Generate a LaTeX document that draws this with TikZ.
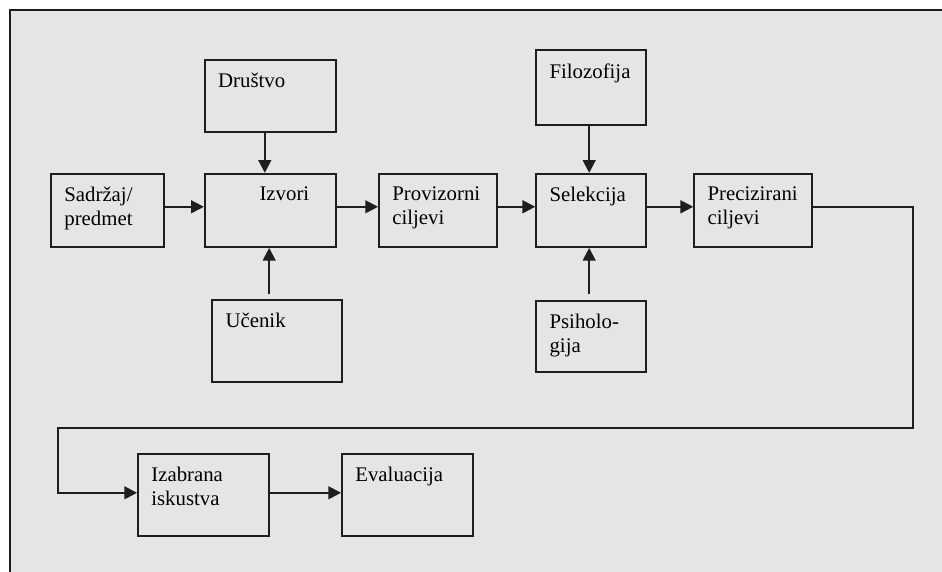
\documentclass[tikz,border=0pt]{standalone}
\usepackage{fontspec}
\setmainfont{Liberation Serif}
\definecolor{pozadina}{HTML}{E5E5E5}
\definecolor{linija}{HTML}{1E1E1E}
\usepackage{tikz}
\usetikzlibrary{arrows.meta, calc}

\begin{document}
\begin{tikzpicture}[
	blok/.style={shape=rectangle, draw=linija, fill=pozadina,
		line width=1.3pt, minimum width=3.28cm, minimum height=1.83cm},
	tekst/.style={anchor=north west, inner sep=0pt, align=left,
		font=\fontsize{14.8}{17}\selectfont, xshift=0.35cm, yshift=-0.35cm},
	veza/.style={draw=linija, line width=1.4pt,
		-{Triangle[length=0.32cm, width=0.32cm]}}]

	% okvir i pozadina
	\useasboundingbox (0, 0) rectangle (23.55, 14.3);
	\fill[pozadina] (0.25, 0) rectangle (23.55, 14.05);
	\draw[linija, line width=1pt] (0.25, 0) -- (0.25, 14.05) -- (23.55, 14.05);

	\node[blok, minimum width=2.83cm, label={[tekst]north west:Sadržaj/\\predmet}] at (2.69, 9.04) (sadrzaj){};
	\node[blok, label={[tekst, anchor=north, xshift=0cm]north:Izvori}] at (6.76, 9.04) (izvori){};
	\node[blok, minimum width=2.95cm, label={[tekst]north west:Provizorni\\ciljevi}] at (10.95, 9.04) (provizorni){};
	\node[blok, minimum width=2.75cm, label={[tekst]north west:Selekcija}] at (14.78, 9.04) (selekcija){};
	\node[blok, minimum width=2.95cm, label={[tekst]north west:Precizirani\\ciljevi}] at (18.83, 9.04) (precizirani){};
	\node[blok, minimum height=1.8cm, label={[tekst]north west:Društvo}] at (6.76, 11.9) (drustvo){};
	\node[blok, minimum width=2.75cm, minimum height=1.88cm, label={[tekst]north west:Filozofija}] at (14.78, 12.11) (filozofija){};
	\node[blok, minimum width=3.25cm, minimum height=2.05cm, label={[tekst]north west:Učenik}] at (6.93, 5.78) (ucenik){};
	\node[blok, minimum width=2.75cm, minimum height=1.78cm, label={[tekst]north west:Psiholo-\\gija}] at (14.78, 5.89) (psihologija){};
	\node[blok, minimum height=2.05cm, label={[tekst]north west:Izabrana\\iskustva}] at (5.09, 1.93) (izabrana){};
	\node[blok, minimum height=2.05cm, label={[tekst]north west:Evaluacija}] at (10.19, 1.93) (evaluacija){};

	\coordinate (desno) at (22.83, 3.6);
	\coordinate (lijevo) at (1.45, 3.6);

	\draw[veza] ([yshift=0.09cm]sadrzaj.east) -- ([yshift=0.09cm]izvori.west);
	\draw[veza] ([yshift=0.09cm]izvori.east) -- ([yshift=0.09cm]provizorni.west);
	\draw[veza] ([yshift=0.09cm]provizorni.east) -- ([yshift=0.09cm]selekcija.west);
	\draw[veza] ([yshift=0.09cm]selekcija.east) -- ([yshift=0.09cm]precizirani.west);
	\draw[veza] ([xshift=-0.14cm]drustvo.south) -- ([xshift=-0.14cm]izvori.north);
	\draw[veza, shorten <=0.12cm] ([xshift=-0.2cm]ucenik.north) -- ([xshift=-0.2cm]ucenik.north |- izvori.south);
	\draw[veza] ([xshift=-0.05cm]filozofija.south) -- ([xshift=-0.05cm]selekcija.north);
	\draw[veza, shorten <=0.15cm] ([xshift=-0.05cm]psihologija.north) -- ([xshift=-0.05cm]selekcija.south);
	\draw[veza] ([yshift=0.09cm]precizirani.east) -| (desno) -- (lijevo) |- ([yshift=0.05cm]izabrana.west);
	\draw[veza] ([yshift=0.05cm]izabrana.east) -- ([yshift=0.05cm]evaluacija.west);
\end{tikzpicture}
\end{document}
